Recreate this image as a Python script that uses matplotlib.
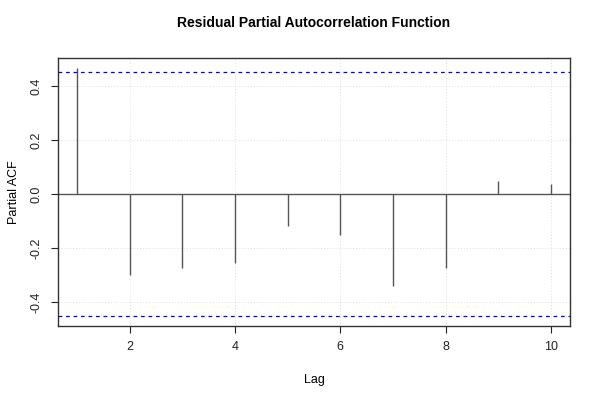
import matplotlib
matplotlib.use("Agg")
from matplotlib import pyplot as plt

plt.rcParams['font.family'] = ['Liberation Sans', 'DejaVu Sans']

lags = [1, 2, 3, 4, 5, 6, 7, 8, 9, 10]
pacf = [0.468, -0.299, -0.274, -0.253, -0.118, -0.150, -0.340, -0.274, 0.047, 0.037]
conf_limit = 0.452
x_ticks = [2, 4, 6, 8, 10]
y_ticks = [-0.4, -0.2, 0.0, 0.2, 0.4]

fig = plt.figure(figsize=(6, 4), dpi=100)
ax = fig.add_axes([0.0967, 0.185, 0.8533, 0.67])

# grid first so the bars sit on top
for xt in x_ticks:
    ax.axvline(xt, color='#dddddd', linestyle=(0, (1, 2)), linewidth=0.7, zorder=0)
for yt in y_ticks:
    ax.axhline(yt, color='#dddddd', linestyle=(0, (1, 2)), linewidth=0.7, zorder=0)

ax.vlines(lags, 0, pacf, color='#555555', linewidth=1.0, zorder=2)
ax.axhline(0, color='#555555', linewidth=1.0, zorder=2)
ax.axhline(conf_limit, color='blue', linestyle=(0, (3, 3)), linewidth=0.9, zorder=3)
ax.axhline(-conf_limit, color='blue', linestyle=(0, (3, 3)), linewidth=0.9, zorder=3)

ax.set_xlim(0.64, 10.36)
ax.set_ylim(-0.488, 0.504)
ax.set_xticks(x_ticks)
ax.set_yticks(y_ticks)
ax.set_yticklabels([f"{v:.1f}" for v in y_ticks], rotation=90, va='center')
ax.tick_params(direction='out', length=5, labelsize=9, colors='#222222', pad=6)

for side in ax.spines.values():
    side.set_color('#333333')
    side.set_linewidth(1.0)

ax.set_title('Residual Partial Autocorrelation Function', fontsize=10,
             fontweight='bold', pad=22)
ax.set_xlabel('Lag', fontsize=9, labelpad=15)
ax.set_ylabel('Partial ACF', fontsize=9, labelpad=8)

fig.savefig('out.png', dpi=100)
